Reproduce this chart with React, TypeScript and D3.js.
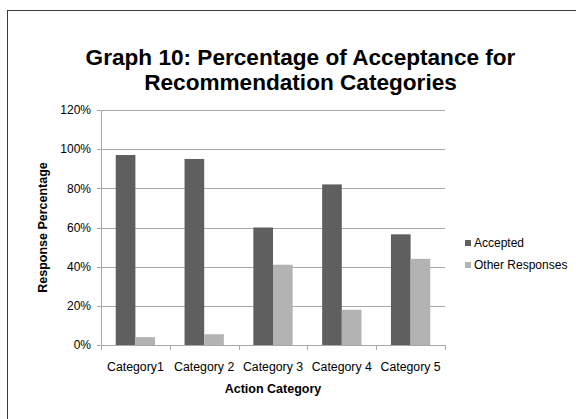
import React from "react";
import * as d3 from "d3";

const categories = ["Category1", "Category 2", "Category 3", "Category 4", "Category 5"];
const seriesNames = ["Accepted", "Other Responses"];
const accepted = [97, 95, 60, 82, 56.5];
const otherResponses = [4, 5.5, 41, 18, 44];
const yTicks = [0, 20, 40, 60, 80, 100, 120];
const titleLines = ["Graph 10: Percentage of Acceptance for", "Recommendation Categories"];

const colors = ["#5f5f5f", "#b3b3b3"];
const W = 576, H = 419;
const left = 101, right = 445, top = 110, bottom = 345;
const font = "'Liberation Sans', Arial, sans-serif";

export default function App() {
  const x = d3.scaleBand<string>().domain(categories).range([left, right]).paddingInner(0).paddingOuter(0);
  const inner = d3.scaleBand<string>().domain(seriesNames).range([0, x.bandwidth()]).paddingInner(0).paddingOuter(0.75);
  const y = d3.scaleLinear().domain([0, 120]).range([bottom, top]);
  const series = [accepted, otherResponses];
  return (
    <svg width={W} height={H} style={{ position: "absolute", left: 0, top: 0, display: "block" }} fontFamily={font}>
      <rect x={0} y={0} width={W} height={H} fill="#fff" />
      <rect x={7.5} y={10.5} width={W} height={H} fill="none" stroke="#3a3a3a" strokeWidth={1} />
      {titleLines.map((t, i) => (
        <text key={i} x={300.5} y={64.5 + i * 25.5} textAnchor="middle" fontSize={22.6} fontWeight="bold" fill="#000">{t}</text>
      ))}
      {yTicks.map((v) => (
        <g key={v}>
          {v > 0 && <line x1={left} x2={right} y1={Math.round(y(v)) + 0.5} y2={Math.round(y(v)) + 0.5} stroke="#a8a8a8" strokeWidth={1} />}
          <line x1={left - 4} x2={left} y1={Math.round(y(v)) + 0.5} y2={Math.round(y(v)) + 0.5} stroke="#a8a8a8" />
          <text x={left - 10} y={y(v)} dy="0.35em" textAnchor="end" fontSize={12} fill="#000">{v}%</text>
        </g>
      ))}
      <line x1={left + 0.5} x2={left + 0.5} y1={top} y2={bottom + 0.5} stroke="#a8a8a8" />
      <line x1={left} x2={right} y1={bottom + 0.5} y2={bottom + 0.5} stroke="#a8a8a8" />
      {[...categories.map((c) => x(c)!), right].map((px, i) => (
        <line key={i} x1={Math.round(px) + 0.5} x2={Math.round(px) + 0.5} y1={bottom} y2={bottom + 5} stroke="#a8a8a8" />
      ))}
      {categories.map((c, ci) => (
        <g key={c}>
          {series.map((s, si) => (
            <rect key={si} x={x(c)! + inner(seriesNames[si])!} y={y(s[ci])} width={inner.bandwidth()} height={bottom - y(s[ci])} fill={colors[si]} />
          ))}
          <text x={x(c)! + x.bandwidth() / 2} y={370.5} textAnchor="middle" fontSize={12.3} fill="#000">{c}</text>
        </g>
      ))}
      <text x={(left + right) / 2} y={393} textAnchor="middle" fontSize={12.5} fontWeight="bold" fill="#000">Action Category</text>
      <text transform={`translate(47,${(top + bottom) / 2}) rotate(-90)`} textAnchor="middle" fontSize={12.5} fontWeight="bold" fill="#000">Response Percentage</text>
      {seriesNames.map((n, i) => (
        <g key={n}>
          <rect x={465} y={240 + i * 22} width={6} height={6} fill={colors[i]} />
          <text x={474} y={243 + i * 22} dy="0.35em" fontSize={12} fill="#000">{n}</text>
        </g>
      ))}
    </svg>
  );
}
